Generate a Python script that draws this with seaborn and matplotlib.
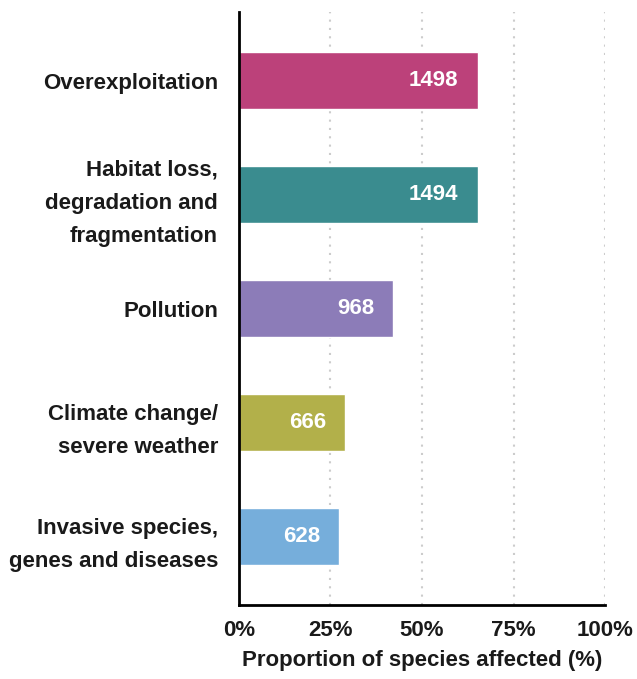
import seaborn as sns
import matplotlib.pyplot as plt
import pandas as pd

categories = ['Overexploitation', 'Habitat loss,\ndegradation and\nfragmentation', 'Pollution',
              'Climate change/\nsevere weather', 'Invasive species,\ngenes and diseases']
proportion = [65.3, 65.2, 42.2, 29.1, 27.4]
counts = [1498, 1494, 968, 666, 628]
colors = ['#BC417A', '#3A8C8F', '#8C7CB8', '#B2B04A', '#76AEDB']
xticks = [0, 25, 50, 75, 100]

df = pd.DataFrame({'threat': categories, 'pct': proportion, 'n': counts})

sns.set_style('white')
plt.rcParams['font.family'] = ['Liberation Sans', 'DejaVu Sans']
plt.rcParams['font.weight'] = 'bold'
txt = '#1a1a1a'
fs = 16

fig = plt.figure(figsize=(6.37, 6.79), dpi=100)
ax = fig.add_axes([0.375, 0.109, 0.575, 0.873])

sns.barplot(data=df, x='pct', y='threat', hue='threat', palette=colors, legend=False,
            width=0.5, saturation=1, orient='h', ax=ax)

for i, row in df.iterrows():
    ax.annotate(str(row['n']), xy=(row['pct'], i), xytext=(-14, 0), textcoords='offset points',
                ha='right', va='center', color='white', fontsize=fs, fontweight='bold')

ax.set_xlim(0, 100)
ax.set_ylim(4.6, -0.6)
ax.set_xticks(xticks)
ax.set_xticklabels([f'{t}%' for t in xticks])
ax.set_yticks(range(len(categories)), labels=categories, linespacing=1.75,
              ha='right', multialignment='right')
for t in xticks[1:]:
    ax.axvline(t, color='#cccccc', linestyle=(0, (1, 3)), linewidth=1.5, zorder=0)

ax.set_xlabel('Proportion of species affected (%)', fontsize=fs, fontweight='bold',
              labelpad=6, color=txt)
ax.set_ylabel('')
ax.tick_params(axis='x', labelsize=fs, length=0, pad=11, labelcolor=txt)
ax.tick_params(axis='y', labelsize=fs, length=0, pad=15, labelcolor=txt)

sns.despine(ax=ax, top=True, right=True)
ax.spines['left'].set_linewidth(2)
ax.spines['bottom'].set_linewidth(2)
ax.spines['left'].set_color('black')
ax.spines['bottom'].set_color('black')

plt.savefig('out.png', dpi=100)
